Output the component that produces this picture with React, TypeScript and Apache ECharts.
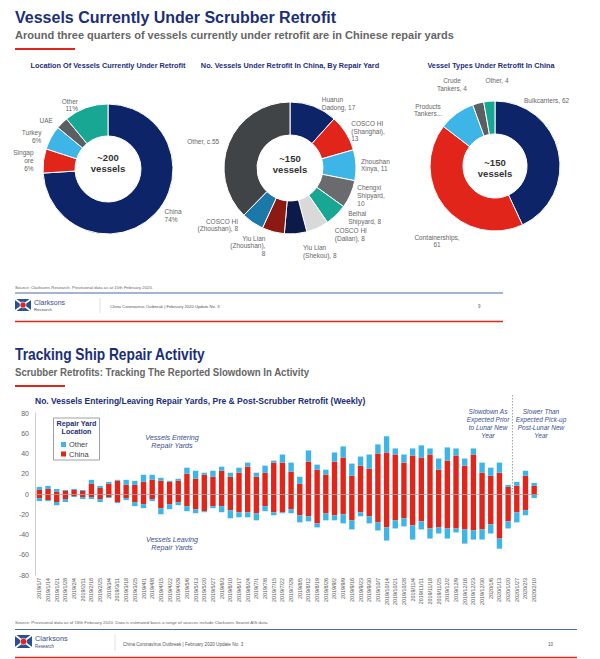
import React, { useEffect, useRef } from 'react';
import * as echarts from 'echarts';

// ---------- DATA ----------
const locationNames = ['China', 'Singapore', 'Turkey', 'UAE', 'Other'];
const locationShares = [74, 6, 6, 3, 11];
const locationLabels = ['China\n74%', 'Singap\nore\n6%', 'Turkey\n6%', 'UAE', 'Other\n11%'];

const yardNames = ['Huarun Dadong', 'COSCO HI (Shanghai)', 'Zhoushan Xinya', 'Chengxi Shipyard', 'Beihai Shipyard', 'COSCO HI (Dalian)', 'Yiu Lian (Shekou)', 'Yiu Lian (Zhoushan)', 'COSCO HI (Zhoushan)', 'Other'];
const yardCounts = [17, 13, 11, 10, 8, 8, 8, 8, 8, 55];
const yardLabels = ['Huarun\nDadong, 17', 'COSCO HI\n(Shanghai),\n13', 'Zhoushan\nXinya, 11', 'Chengxi\nShipyard,\n10', 'Beihai\nShipyard, 8', 'COSCO HI\n(Dalian), 8', 'Yiu Lian\n(Shekou), 8', 'Yiu Lian\n(Zhoushan),\n8', 'COSCO HI\n(Zhoushan), 8', 'Other, c.55'];

const typeNames = ['Bulkcarriers', 'Containerships', 'Products Tankers', 'Crude Tankers', 'Other'];
const typeCounts = [62, 61, 13, 4, 4];
const typeLabels = ['Bulkcarriers, 62', 'Containerships,\n61', 'Products\nTankers...', 'Crude\nTankers, 4', 'Other, 4'];

const weeks = [
  '2019/1/7', '2019/1/14', '2019/1/21', '2019/1/28', '2019/2/4', '2019/2/11', '2019/2/18', '2019/2/25',
  '2019/3/4', '2019/3/11', '2019/3/18', '2019/3/25', '2019/4/1', '2019/4/8', '2019/4/15', '2019/4/22',
  '2019/4/29', '2019/5/6', '2019/5/13', '2019/5/20', '2019/5/27', '2019/6/3', '2019/6/10', '2019/6/17',
  '2019/6/24', '2019/7/1', '2019/7/8', '2019/7/15', '2019/7/22', '2019/7/29', '2019/8/5', '2019/8/12',
  '2019/8/19', '2019/8/26', '2019/9/2', '2019/9/9', '2019/9/16', '2019/9/23', '2019/9/30', '2019/10/7',
  '2019/10/14', '2019/10/21', '2019/10/28', '2019/11/4', '2019/11/11', '2019/11/18', '2019/11/25', '2019/12/2',
  '2019/12/9', '2019/12/16', '2019/12/23', '2019/12/30', '2020/1/6', '2020/1/13', '2020/1/20', '2020/1/27',
  '2020/2/3', '2020/2/10'
];
const chinaIn = [4, 5, 2, 3, 4, 3, 10, 6, 10, 13, 9, 9, 12, 14, 13, 12, 13, 20, 15, 19, 17, 23, 17, 21, 27, 17, 21, 31, 31, 22, 10, 32, 24, 19, 32, 36, 18, 28, 25, 40, 41, 39, 31, 38, 36, 39, 24, 33, 38, 28, 39, 21, 18, 21, 7, 8, 18, 8];
const otherIn = [3, 3, 3, 1, 1, 1, 4, 2, 2, 1, 5, 4, 7, 5, 3, 1, 2, 6, 8, 2, 6, 4, 4, 5, 4, 4, 7, 2, 8, 9, 7, 11, 5, 5, 9, 11, 12, 9, 14, 9, 16, 6, 8, 7, 12, 6, 11, 13, 7, 7, 6, 10, 8, 10, 2, 4, 5, 3];
const chinaOut = [-4, -6, -8, -5, -2, -3, -3, -5, -3, -8, -4, -8, -10, -5, -14, -10, -8, -12, -15, -17, -12, -12, -16, -18, -18, -19, -12, -18, -18, -15, -21, -22, -29, -19, -21, -20, -26, -18, -22, -28, -33, -26, -24, -31, -27, -34, -33, -34, -34, -35, -36, -35, -30, -44, -27, -18, -16, -1];
const otherOut = [-3, -1, -3, -3, -1, -2, -2, -3, -1, -1, -2, -4, -4, -2, -6, -5, -3, -5, -4, -1, -2, -6, -8, -5, -5, -7, -5, -3, -1, -4, -7, -5, -4, -7, -5, -9, -9, -4, -7, -8, -13, -8, -8, -14, -8, -10, -6, -10, -4, -14, -9, -10, -9, -10, -7, -10, -5, -3];
const yTicks = { min: -80, max: 80, interval: 20 };

// ---------- STYLE ----------
const FONT = 'Arial, "Liberation Sans", sans-serif';
const NAVY = '#0e2469';
const TITLE_NAVY = '#1b2e78';
const RED = '#e1251b';
const CYAN = '#3db5e6';
const TEAL = '#17a793';
const GRAY = '#5b5e62';
const locationColors = [NAVY, RED, CYAN, GRAY, TEAL];
const yardColors = [NAVY, RED, CYAN, '#696b6f', TEAL, '#d9d9d9', '#0b1a48', '#8c1a12', '#1c78a8', '#414447'];
const typeColors = [NAVY, RED, CYAN, GRAY, TEAL];
// label placement for the vessel-type donut (x, y, align)
const typeLabelPlace: [number, number, string][] = [
  [524, 100, 'left'], [437, 241, 'center'], [428, 110, 'center'], [452, 84.5, 'center'], [497, 80, 'center'],
];

type TOpts = { bold?: boolean; italic?: boolean; align?: string; lh?: number; sx?: number; va?: string };
const txt = (x: number, y: number, text: string, size: number, color: string, o: TOpts = {}) => ({
  type: 'text',
  x,
  y,
  scaleX: o.sx || 1,
  silent: true,
  style: {
    text,
    fontSize: size,
    fill: color,
    fontFamily: FONT,
    fontWeight: o.bold ? 'bold' : 'normal',
    fontStyle: o.italic ? 'italic' : 'normal',
    align: o.align || 'left',
    verticalAlign: o.va || 'middle',
    lineHeight: o.lh || size * 1.2,
  },
});
const hline = (x1: number, x2: number, y: number, color: string, w: number) => ({
  type: 'line', silent: true, shape: { x1, y1: y, x2, y2: y }, style: { stroke: color, lineWidth: w },
});
const vline = (x: number, y1: number, y2: number, color: string, w: number) => ({
  type: 'line', silent: true, shape: { x1: x, y1, x2: x, y2 }, style: { stroke: color, lineWidth: w },
});
const logo = (x: number, y: number, w: number, h: number, s: number) => [
  { type: 'rect', silent: true, shape: { x, y, width: w, height: h }, style: { fill: '#2a4f95' } },
  { type: 'line', silent: true, shape: { x1: x, y1: y, x2: x + w, y2: y + h }, style: { stroke: '#fff', lineWidth: 1.6 } },
  { type: 'line', silent: true, shape: { x1: x + w, y1: y, x2: x, y2: y + h }, style: { stroke: '#fff', lineWidth: 1.6 } },
  { type: 'circle', silent: true, shape: { cx: x + w / 2, cy: y + h / 2, r: h * 0.25 }, style: { fill: RED, stroke: '#fff', lineWidth: 0.6 } },
  txt(x + w + 3, y + h * 0.3, 'Clarksons', 7 * s, '#3a4c86'),
  txt(x + w + 3, y + h * 0.85, 'Research', 4.2 * s, '#3a4c86'),
];

const pieSeries = (names: string[], vals: number[], labels: string[], colors: string[], center: number[], radius: number[], extra: any = {}) => ({
  type: 'pie',
  center,
  radius,
  startAngle: 90,
  clockwise: true,
  avoidLabelOverlap: true,
  itemStyle: { borderColor: '#fff', borderWidth: 1 },
  label: { show: true, position: 'outside', fontSize: 6.5, lineHeight: 7.6, color: '#666', fontFamily: FONT, ...(extra.label || {}) },
  labelLine: { show: false, length: 3, length2: 2 },
  labelLayout: extra.labelLayout,
  emphasis: { disabled: true },
  data: names.map((n, i) => ({
    name: n,
    value: vals[i],
    itemStyle: { color: colors[i] },
    label: { formatter: labels[i] },
  })),
});

export default function App() {
  const ref = useRef<HTMLDivElement>(null);
  useEffect(() => {
    if (!ref.current) return;
    const chart = echarts.init(ref.current, undefined, { renderer: 'svg' });

    const graphics: any[] = [
      // top slide
      txt(15, 17, 'Vessels Currently Under Scrubber Retrofit', 16, TITLE_NAVY, { bold: true }),
      txt(15, 35, 'Around three quarters of vessels currently under retrofit are in Chinese repair yards', 11, '#666', { bold: true }),
      hline(15, 75, 49, RED, 2),
      txt(108, 65, 'Location Of Vessels Currently Under Retrofit', 7.3, TITLE_NAVY, { bold: true, align: 'center' }),
      txt(290, 65, 'No. Vessels Under Retrofit In China, By Repair Yard', 7.3, TITLE_NAVY, { bold: true, align: 'center' }),
      txt(491, 65, 'Vessel Types Under Retrofit In China', 7.3, TITLE_NAVY, { bold: true, align: 'center' }),
      txt(108, 163, '~200\nvessels', 9.5, '#333', { bold: true, align: 'center', lh: 11 }),
      txt(290, 164, '~150\nvessels', 9.5, '#333', { bold: true, align: 'center', lh: 11 }),
      txt(495, 168, '~150\nvessels', 9.5, '#333', { bold: true, align: 'center', lh: 11 }),
      txt(15, 287, 'Source: Clarksons Research. Provisional data as at 10th February 2020.', 4.3, '#666'),
      hline(15, 503, 293, '#4a6aa5', 1.2),
      ...logo(15, 299, 16, 12, 1),
      vline(100, 298, 313, '#ccc', 0.6),
      txt(110, 306, 'China Coronavirus Outbreak | February 2020 Update No. 3', 4.2, '#555'),
      txt(478, 306, '9', 4.5, '#555'),
      hline(15, 503, 321.5, RED, 1.5),
      // bottom slide
      txt(15, 354, 'Tracking Ship Repair Activity', 16, TITLE_NAVY, { bold: true, sx: 0.86 }),
      txt(15, 372, 'Scrubber Retrofits: Tracking The Reported Slowdown In Activity', 10.5, '#666', { bold: true, sx: 0.92 }),
      hline(15, 65, 386, RED, 2),
      txt(35, 401, 'No. Vessels Entering/Leaving Repair Yards, Pre & Post-Scrubber Retrofit (Weekly)', 8.5, TITLE_NAVY, { bold: true, sx: 1.0 }),
      { type: 'rect', silent: true, shape: { x: 53.5, y: 418, width: 46, height: 42 }, style: { fill: 'rgba(0,0,0,0)', stroke: '#888', lineWidth: 0.8 } },
      txt(76.5, 427.5, 'Repair Yard\nLocation', 7.2, TITLE_NAVY, { bold: true, align: 'center', lh: 8.8 }),
      txt(172, 441.5, 'Vessels Entering\nRepair Yards', 7.2, '#3a4f8e', { italic: true, align: 'center', lh: 8.5 }),
      txt(172, 543.5, 'Vessels Leaving\nRepair Yards', 7.2, '#3a4f8e', { italic: true, align: 'center', lh: 8.5 }),
      txt(488, 423.5, 'Slowdown As\nExpected Prior\nto Lunar New\nYear', 6.5, '#3a4f8e', { italic: true, align: 'center', lh: 7.7 }),
      txt(541, 423.5, 'Slower Than\nExpected Pick-up\nPost-Lunar New\nYear', 6.5, '#3a4f8e', { italic: true, align: 'center', lh: 7.7 }),
      txt(15, 622, 'Source: Provisional data as of 18th February 2020. Data is estimated basis a range of sources include Clarksons Seanet AIS data.', 4.4, '#666'),
      hline(15, 577, 629.5, '#4a6aa5', 1.2),
      ...logo(15, 635, 17, 13, 1.05),
      vline(115, 634, 651, '#ccc', 0.6),
      txt(123, 644, 'China Coronavirus Outbreak | February 2020 Update No. 3', 4.6, '#555'),
      txt(548, 644, '10', 4.6, '#555'),
      hline(15, 577, 657.5, RED, 1.5),
    ];

    const barBase = { type: 'bar', stack: 'flow', barWidth: '62%', emphasis: { disabled: true } };

    const option: any = {
      animation: false,
      textStyle: { fontFamily: FONT },
      grid: { left: 35, top: 413, width: 503.5, height: 162, containLabel: false },
      legend: {
        data: ['Other', 'China'],
        orient: 'vertical',
        left: 61,
        top: 440.5,
        padding: 0,
        itemWidth: 5,
        itemHeight: 5,
        itemGap: 1.5,
        icon: 'rect',
        selectedMode: false,
        textStyle: { fontSize: 7.5, color: '#444', padding: [0, 0, 0, -2], fontFamily: FONT },
      },
      xAxis: {
        type: 'category',
        data: weeks,
        axisLine: { show: false, onZero: false },
        axisTick: { show: false },
        axisLabel: { rotate: 90, fontSize: 5.4, color: '#555', interval: 0, margin: 3 },
      },
      yAxis: {
        type: 'value',
        min: yTicks.min,
        max: yTicks.max,
        interval: yTicks.interval,
        axisLine: { show: true, lineStyle: { color: '#ccc', width: 1 } },
        axisTick: { show: false },
        splitLine: { show: false },
        axisLabel: { fontSize: 7, color: '#666', margin: 6 },
      },
      series: [
        {
          ...barBase, name: 'China', data: chinaIn, itemStyle: { color: RED },
          markLine: {
            silent: true, symbol: 'none', label: { show: false },
            lineStyle: { color: '#aaa', width: 0.8, type: 'solid' },
            data: [{ yAxis: 0 }],
          },
        },
        { ...barBase, name: 'Other', data: otherIn, itemStyle: { color: CYAN } },
        { ...barBase, name: 'China', data: chinaOut, itemStyle: { color: RED } },
        { ...barBase, name: 'Other', data: otherOut, itemStyle: { color: CYAN } },
        pieSeries(locationNames, locationShares, locationLabels, locationColors, [108, 169], [33, 65]),
        pieSeries(yardNames, yardCounts, yardLabels, yardColors, [290, 168], [33, 66]),
        pieSeries(typeNames, typeCounts, typeLabels, typeColors, [495, 166], [32, 65], {
          label: { width: 90, overflow: 'none' },
          labelLayout: (p: any) => {
            const q = typeLabelPlace[p.dataIndex];
            return { x: q[0], y: q[1], align: q[2], verticalAlign: 'middle' };
          },
        }),
      ],
      graphic: { elements: graphics },
    };
    chart.setOption(option);

    const xa = chart.convertToPixel({ xAxisIndex: 0 }, weeks[54]) as number;
    const xb = chart.convertToPixel({ xAxisIndex: 0 }, weeks[55]) as number;
    const y0 = chart.convertToPixel({ yAxisIndex: 0 }, 0) as number;
    const xm = (xa + xb) / 2;
    chart.setOption({
      graphic: {
        elements: [
          ...graphics,
          { type: 'line', silent: true, shape: { x1: xm, y1: 395, x2: xm, y2: y0 }, style: { stroke: '#777', lineWidth: 0.7, lineDash: [1.5, 1.5] } },
        ],
      },
    });

    return () => chart.dispose();
  }, []);
  return <div ref={ref} style={{ position: 'absolute', left: 0, top: 0, width: 600, height: 659 }} />;
}
